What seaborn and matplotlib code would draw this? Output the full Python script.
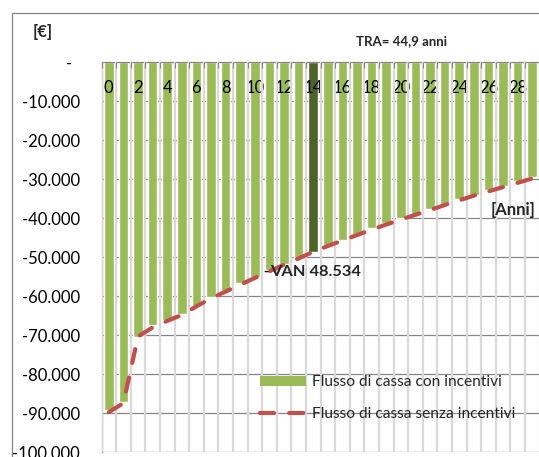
import numpy as np
import pandas as pd
import matplotlib
matplotlib.use("Agg")
import matplotlib.pyplot as plt
import seaborn as sns
from matplotlib.patches import Patch, Rectangle
from matplotlib.lines import Line2D
from matplotlib.transforms import ScaledTranslation

# Cumulative cash flow per year [€]
years = list(range(30))
flusso_con_incentivi = [
    -89200, -87000, -70500, -67400, -66200, -64600, -62400, -60100, -58600, -56700,
    -55000, -53300, -51600, -50200, -48534, -46900, -45500, -44100, -42600, -41300,
    -40000, -38800, -37600, -36300, -35100, -33900, -32800, -31600, -30500, -29500,
]
flusso_senza_incentivi = [
    -89700, -87400, -70300, -68000, -66300, -64800, -62600, -60500, -58800, -57000,
    -55300, -53600, -51900, -50300, -48600, -47100, -45700, -44300, -42900, -41600,
    -40300, -39100, -37900, -36600, -35400, -34200, -33100, -32000, -30900, -29800,
]
year_labels = [str(y) if y % 2 == 0 else "" for y in years]
y_ticks = list(range(-100000, 1, 10000))
anno_rientro = 14
label_con = "Flusso di cassa con incentivi"
label_senza = "Flusso di cassa senza incentivi"
tra_text = "TRA= 44,9 anni"

GREEN = "#9BBB59"
DARK_GREEN = "#4F6228"
RED = "#C0504D"
GRID_DARK = "#868686"
GRID_LIGHT = "#D9D9D9"

sns.set_style("white")
plt.rcParams["font.family"] = ["Lato", "DejaVu Sans"]

W, H = 539, 457
fig = plt.figure(figsize=(W / 100, H / 100), dpi=100)
fig.patch.set_facecolor("white")

# outer chart frame
fig.add_artist(Rectangle((12 / W, -0.1), 1.2, (1 - 13 / H) + 0.1,
                         transform=fig.transFigure, fill=False,
                         edgecolor=GRID_DARK, lw=0.9))

ax = fig.add_axes([101.5 / W, 1 - 452.3 / H, (539.5 - 101.5) / W, (452.3 - 62.3) / H])

df = pd.DataFrame({"anno": years, "flusso": flusso_con_incentivi})
df["anno_lbl"] = df["anno"].astype(str)
palette = {str(y): (DARK_GREEN if y == anno_rientro else GREEN) for y in years}

sns.barplot(data=df, x="anno", y="flusso", hue="anno_lbl", palette=palette,
            dodge=False, legend=False, width=0.65, saturation=1,
            errorbar=None, ax=ax, zorder=2)

sns.lineplot(x=years, y=flusso_senza_incentivi, ax=ax, color=RED, lw=3, zorder=4)
line = ax.lines[-1]
line.set_dashes((3.4, 3.6))
line.set_dash_capstyle("round")

ax.set_xlim(-0.5, 29.5)
ax.set_ylim(-100000, 0)
ax.set_xlabel("")
ax.set_ylabel("")


def fmt_euro(v):
    return "-" if v == 0 else f"{v:,.0f}".replace(",", ".")


ax.set_yticks(y_ticks)
ax.set_yticklabels([fmt_euro(v) for v in y_ticks])
ax.tick_params(axis="y", length=4.3, width=0.8, color=GRID_DARK, pad=11.3,
               labelsize=12, labelcolor="black")

ax.xaxis.tick_top()
ax.set_xticks(years)
ax.set_xticklabels(year_labels)
ax.set_xticks(np.arange(-0.5, 30, 1), minor=True)
ax.tick_params(axis="x", which="major", length=0, pad=-24.5, labelsize=12,
               labelcolor="black")
ax.tick_params(axis="x", which="minor", direction="in", length=4, width=0.8,
               color=GRID_DARK, top=True, bottom=False)

ax.grid(axis="y", which="major", color=GRID_DARK, lw=0.9)
ax.grid(axis="x", which="major", visible=False)
ax.grid(axis="x", which="minor", color=GRID_LIGHT, lw=1.6)
ax.set_axisbelow(True)
ax.xaxis.set_zorder(3)

for s in ["right", "bottom"]:
    ax.spines[s].set_visible(False)
for s in ["left", "top"]:
    ax.spines[s].set_color(GRID_DARK)
    ax.spines[s].set_linewidth(0.9)
    ax.spines[s].set_zorder(3)

# zero label in accounting style sits a little left of the others
zero_lbl = ax.get_yticklabels()[-1]
zero_lbl.set_transform(zero_lbl.get_transform()
                       + ScaledTranslation(-8 / 100, 0, fig.dpi_scale_trans))

# texts
fig.text(43 / W, 1 - 32.5 / H, "[€]", ha="center", va="center",
         fontsize=12, fontweight="bold")
fig.text(402 / W, 1 - 41 / H, tra_text, ha="center", va="center",
         fontsize=9.5, fontweight="bold")
fig.text(535.7 / W, 1 - 210 / H, "[Anni]", ha="right", va="center",
         fontsize=12, fontweight="bold")

v_rientro = flusso_con_incentivi[anno_rientro]
van = ax.annotate(f"VAN {abs(v_rientro):,.0f}".replace(",", "."),
                  xy=(anno_rientro, v_rientro), xytext=(-43, -20),
                  textcoords="offset pixels", ha="left", va="center",
                  fontsize=11.8, fontweight="bold", zorder=6)
ax.annotate("", xy=(0, 0.5), xycoords=van, xytext=(-5, 0),
            textcoords="offset pixels",
            arrowprops=dict(arrowstyle="-", lw=1, color="black",
                            shrinkA=0, shrinkB=0))

handles = [
    Patch(facecolor=GREEN, edgecolor="none"),
    Line2D([], [], color=RED, lw=3, dashes=(3.4, 3.6), dash_capstyle="round"),
]
fs = 11.2
em = fs * 100 / 72
ax.legend(handles, [label_con, label_senza], loc="upper left",
          bbox_to_anchor=(260 / W, 1 - 375.5 / H), bbox_transform=fig.transFigure,
          frameon=False, fontsize=fs, handlelength=46 / em, handleheight=9 / em,
          handletextpad=6 / em, labelspacing=1.14,
          borderpad=0, borderaxespad=0)

fig.savefig("out.png", dpi=100, facecolor="white")
